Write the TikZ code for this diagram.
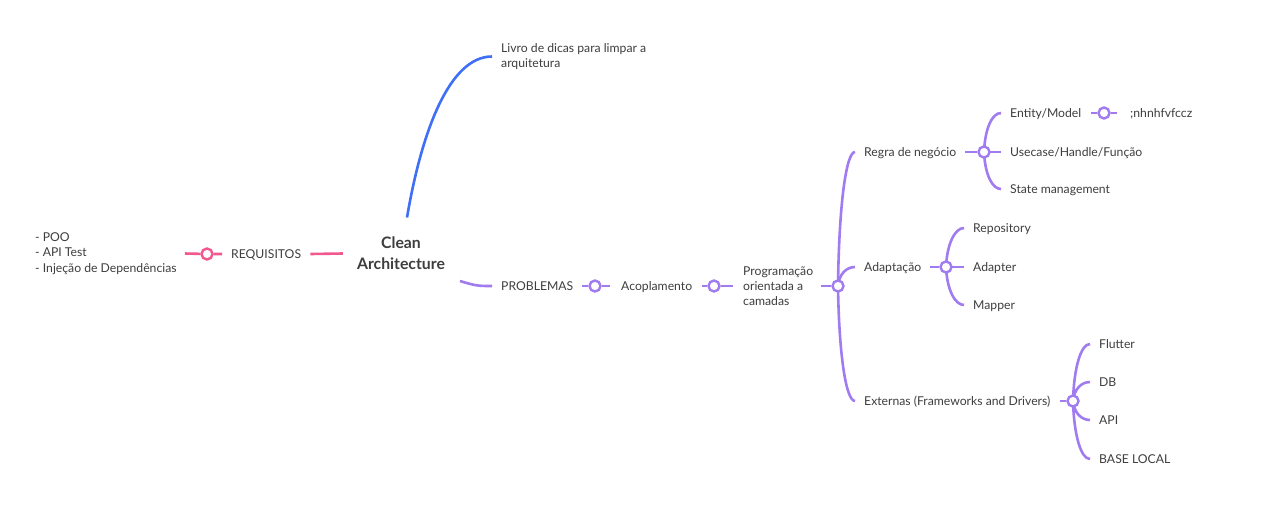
\documentclass[tikz,border=0pt]{standalone}
\usepackage{fontspec}
\setmainfont{Lato}
\usetikzlibrary{calc,backgrounds}
\definecolor{txt}{HTML}{3E3E3E}
\definecolor{pur}{HTML}{A07CF0}
\definecolor{pnk}{HTML}{F2588F}
\definecolor{blu}{HTML}{3E6FF6}
\newcommand\brn[2]{\draw[pl] let \p1=(#1.center), \p2=([xshift=-9pt]#2.west) in (\p1) .. controls (\x1+1pt,{0.4*\y1+0.6*\y2}) and (\x2-9pt,\y2) .. (\p2);}
\begin{document}
\begin{tikzpicture}[x=1pt,y=-1pt,
  lbl/.style={anchor=west,inner sep=0pt,font=\fontsize{12.2}{15}\selectfont,text=txt,text height=8.7pt,text depth=0pt},
  mlbl/.style={anchor=west,inner sep=0pt,font=\fontsize{12.2}{15.2}\selectfont,text=txt,align=left},
  knob/.style={circle,draw=pur,fill=white,line width=2.4pt,minimum size=11pt,inner sep=0pt},
  pl/.style={draw=pur,line width=2.6pt},
  pkl/.style={draw=pnk,line width=2.6pt},
]
\useasboundingbox (0,0) rectangle (1282,512);
% nodes
\node[mlbl] (list) at (35,253.5) {- POO\\- API Test\\- Injeção de Dependências};
\node[lbl] (requisitos) at (231,254) {REQUISITOS};
\node[knob,draw=pnk] (k0) at (207,254) {};
\node[font=\bfseries\fontsize{15.8}{21}\selectfont,align=center,text=txt,inner sep=0pt] (clean) at (401,253.5) {Clean\\Architecture};
\node[mlbl] (livro) at (501,56.5) {Livro de dicas para limpar a\\arquitetura};
\node[lbl] (prob) at (501,286) {PROBLEMAS};
\node[knob] (k1) at (595,286) {};
\node[lbl] (acop) at (621,286) {Acoplamento};
\node[knob] (k2) at (714,286) {};
\node[mlbl] (prog) at (743,286) {Programação\\orientada a\\camadas};
\node[knob] (k3) at (838,286) {};
\node[lbl] (regra) at (864,152) {Regra de negócio};
\node[lbl] (adap) at (864,267) {Adaptação};
\node[lbl] (ext) at (864,401) {Externas (Frameworks and Drivers)};
\node[knob] (k4) at (984,152) {};
\node[lbl] (entity) at (1010,113) {Entity/Model};
\node[lbl] (usecase) at (1010,152) {Usecase/Handle/Função};
\node[lbl] (state) at (1010,189) {State management};
\node[knob] (k5) at (1104,113) {};
\node[lbl] (nh) at (1130,113) {;nhnhfvfccz};
\node[knob] (k6) at (946,267) {};
\node[lbl] (repo) at (973,228) {Repository};
\node[lbl] (adapter) at (973,267) {Adapter};
\node[lbl] (mapper) at (973,305) {Mapper};
\node[knob] (k7) at (1073,401) {};
\node[lbl] (flutter) at (1099,344) {Flutter};
\node[lbl] (db) at (1099,382) {DB};
\node[lbl] (api) at (1099,420) {API};
\node[lbl] (base) at (1099,459) {BASE LOCAL};
% connectors
\begin{scope}[on background layer]
\fill[white] (0,0) rectangle (1282,512);
\draw[pkl] ([xshift=8pt]list.east) -- (k0) -- ([xshift=-9pt]requisitos.west);
\draw[pkl] ([xshift=9pt]requisitos.east) -- ([xshift=-14pt]clean.west);
\draw[draw=blu,line width=2.6pt] ([shift={(6,-36)}]clean.center) .. controls ([shift={(21,-124)}]clean.center) and ([xshift=-51pt]livro.west) .. ([xshift=-9pt]livro.west);
\draw[pl] ([shift={(59,27.5)}]clean.center) .. controls ([shift={(75,32.5)}]clean.center) and ([xshift=-22pt]prob.west) .. ([xshift=-9pt]prob.west);
\draw[pl] ([xshift=9pt]prob.east) -- (k1) -- ([xshift=-11pt]acop.west);
\draw[pl] ([xshift=10pt]acop.east) -- (k2) -- ([xshift=-10pt]prog.west);
\draw[pl] ([xshift=8pt]prog.east) -- (k3);
\brn{k3}{regra}
\brn{k3}{adap}
\brn{k3}{ext}
\draw[pl] ([xshift=9pt]regra.east) -- (k4);
\brn{k4}{entity}
\brn{k4}{usecase}
\brn{k4}{state}
\draw[pl] ([xshift=10pt]entity.east) -- (k5) -- ([xshift=-13pt]nh.west);
\draw[pl] ([xshift=9pt]adap.east) -- (k6);
\brn{k6}{repo}
\brn{k6}{adapter}
\brn{k6}{mapper}
\draw[pl] ([xshift=9pt]ext.east) -- (k7);
\brn{k7}{flutter}
\brn{k7}{db}
\brn{k7}{api}
\brn{k7}{base}
\end{scope}
\end{tikzpicture}
\end{document}
